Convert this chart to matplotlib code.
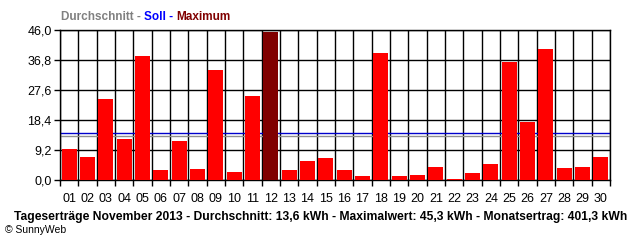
#!/usr/bin/env python3
import numpy as np
import matplotlib.pyplot as plt

# Daily yields November 2013 (kWh)
days = ['%02d' % d for d in range(1, 31)]
yields = [9.6, 7.1, 24.9, 12.7, 38.1, 3.2, 12.1, 3.5, 33.8, 2.5,
          25.9, 45.3, 3.2, 5.9, 6.8, 3.2, 1.3, 39.0, 1.3, 1.6,
          4.1, 0.4, 2.3, 5.0, 36.3, 17.9, 40.3, 3.8, 4.1, 7.1]
avg_line = 13.4
soll_line = 14.4
y_ticks = [0.0, 9.2, 18.4, 27.6, 36.8, 46.0]
footer = ('Tageserträge November 2013 - Durchschnitt: 13,6 kWh - '
          'Maximalwert: 45,3 kWh - Monatsertrag: 401,3 kWh')

plt.rcParams['font.family'] = ['Liberation Sans', 'DejaVu Sans']

fig = plt.figure(figsize=(6.4, 2.4), dpi=100)
ax = fig.add_axes([60 / 640, 60 / 240, 550 / 640, 150 / 240])

x = np.arange(len(days))
imax = int(np.argmax(yields))
colors = ['#800000' if i == imax else '#ff0000' for i in range(len(days))]
ax.bar(x, yields, width=0.82, color=colors, zorder=3)

ax.axhline(soll_line, color='#0000cc', lw=1.0, zorder=2)
ax.axhline(avg_line, color='#909090', lw=1.0, zorder=2)

ax.set_xlim(-0.5, len(days) - 0.5)
ax.set_ylim(0, 46)
ax.set_yticks(y_ticks)
ax.set_yticklabels([('%.1f' % v).replace('.', ',') for v in y_ticks],
                   fontsize=9)
ax.set_xticks(x)
ax.set_xticklabels(days, fontsize=9)
ax.set_xticks(np.arange(-0.5, len(days)), minor=True)
ax.tick_params(axis='x', which='major', length=0, pad=9)
ax.tick_params(axis='x', which='minor', length=4, width=1.0, color='black')
ax.tick_params(axis='y', which='major', length=4, width=1.0, pad=2)
ax.grid(axis='y', which='major', color='black', lw=1.0, zorder=1)
ax.grid(axis='x', which='minor', color='black', lw=1.0, zorder=1)
for s in ax.spines.values():
    s.set_linewidth(1.0)
ax.set_axisbelow(True)

# coloured legend title
t = fig.text(61 / 640, 1 - 17 / 240, 'Durchschnitt - ', color='#808080',
             fontsize=8.5, fontweight='bold', va='center')
t = ax.annotate('Soll - ', xycoords=t, xy=(1, 0), va='bottom',
                color='#0000ff', fontsize=8.5, fontweight='bold')
ax.annotate('Maximum', xycoords=t, xy=(1, 0), va='bottom',
            color='#800000', fontsize=8.5, fontweight='bold')

fig.text(321 / 640, 1 - 217 / 240, footer, ha='center', va='center',
         fontsize=8.7, fontweight='bold')
fig.text(5 / 640, 1 - 230 / 240, '© SunnyWeb', ha='left', va='center',
         fontsize=7.5)

fig.savefig('out.png', dpi=100)
